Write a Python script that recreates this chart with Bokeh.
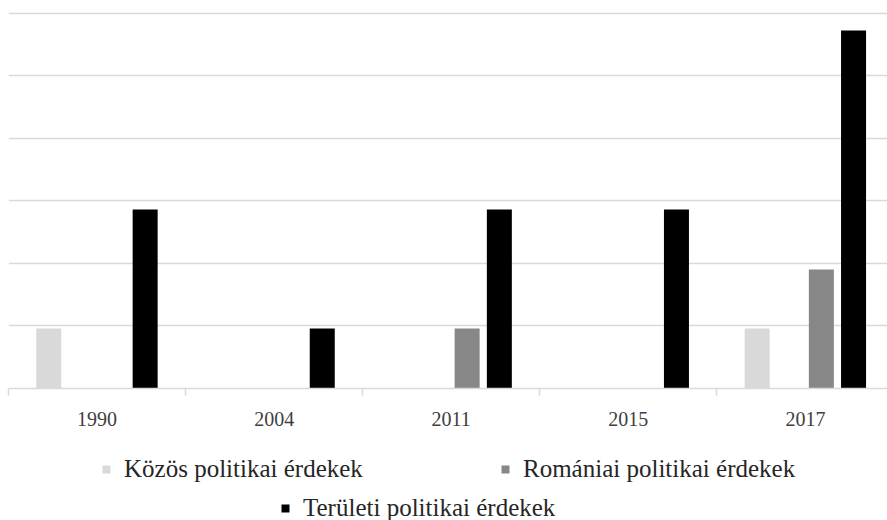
from bokeh.plotting import figure
from bokeh.layouts import column
from bokeh.models import Range1d, FixedTicker, Legend, LegendItem, ColumnDataSource
from bokeh.embed import file_html
from bokeh.resources import INLINE

categories = ["1990", "2004", "2011", "2015", "2017"]
kozos = [4.8, 0, 0, 0, 4.8]
romaniai = [0, 0, 4.8, 0, 9.5]
teruleti = [14.3, 4.8, 14.3, 14.3, 28.6]
series_names = ["Közös politikai érdekek", "Romániai politikai érdekek", "Területi politikai érdekek"]
y_ticks = [0, 5, 10, 15, 20, 25, 30]

FONT = "Liberation Serif"
W = 887
H_MAIN, H_LEG = 440, 80
LEFT, TOP, BOTTOM_Y = 8, 10, 388
CAT_PX = 177.1
frame_w = W - LEFT
x_end = -0.5 + frame_w / CAT_PX

p = figure(width=W, height=H_MAIN, output_backend="svg", toolbar_location=None,
           x_range=Range1d(-0.5, x_end), y_range=Range1d(0, 30.2),
           min_border_left=LEFT, min_border_right=0, min_border_top=TOP,
           min_border_bottom=H_MAIN - BOTTOM_Y)
p.outline_line_color = None
p.background_fill_color = "white"
p.border_fill_color = "white"

idx = list(range(len(categories)))
bw = 25 / CAT_PX
offsets = [-48.3 / CAT_PX, 15.9 / CAT_PX, 48.1 / CAT_PX]
colors = ["#d9d9d9", "#878787", "#000000"]
for vals, off, col in zip([kozos, romaniai, teruleti], offsets, colors):
    src = ColumnDataSource(dict(x=[i + off for i in idx], top=vals))
    p.vbar(x="x", top="top", width=bw, source=src, fill_color=col, line_color=None)

p.yaxis.visible = False
p.xgrid.visible = False
p.ygrid.ticker = FixedTicker(ticks=y_ticks)
p.ygrid.grid_line_color = "#d9d9d9"
p.ygrid.grid_line_width = 1.5

xa = p.xaxis[0]
xa.ticker = FixedTicker(ticks=idx, minor_ticks=[i - 0.5 for i in idx])
xa.major_label_overrides = {i: c for i, c in zip(idx, categories)}
xa.major_tick_out = 0
xa.major_tick_in = 0
xa.minor_tick_out = 7
xa.minor_tick_in = 0
xa.minor_tick_line_color = "#d9d9d9"
xa.minor_tick_line_width = 1.5
xa.axis_line_color = "#d9d9d9"
xa.axis_line_width = 1.5
xa.major_label_text_font = FONT
xa.major_label_text_font_size = "20px"
xa.major_label_text_color = "#404040"
xa.major_label_standoff = 16

# legend panel below the chart
q = figure(width=W, height=H_LEG, output_backend="svg", toolbar_location=None,
           x_range=Range1d(0, W), y_range=Range1d(0, H_LEG),
           min_border=0, min_border_left=0, min_border_right=0,
           min_border_top=0, min_border_bottom=0)
q.axis.visible = False
q.grid.visible = False
q.outline_line_color = None
q.background_fill_color = "white"
q.border_fill_color = "white"

leg_pos = [(93, 37), (492, 37), (272, -2)]
for name, col, pos in zip(series_names, colors, leg_pos):
    # zero-height swatch renderer, used only for the legend key
    r = q.vbar(x=[0], top=[0], bottom=[0], width=0, fill_color=col, line_color=None)
    lg = Legend(items=[LegendItem(label=name, renderers=[r])], location=pos,
                orientation="horizontal", glyph_width=10, glyph_height=10,
                label_standoff=13, label_text_font=FONT, label_text_font_size="25px",
                label_text_color="#262626", padding=0, margin=0, spacing=0,
                border_line_color=None, background_fill_alpha=0, label_height=24)
    q.add_layout(lg)

layout = column(p, q, spacing=0)
open("out.html", "w").write(file_html(layout, INLINE))
